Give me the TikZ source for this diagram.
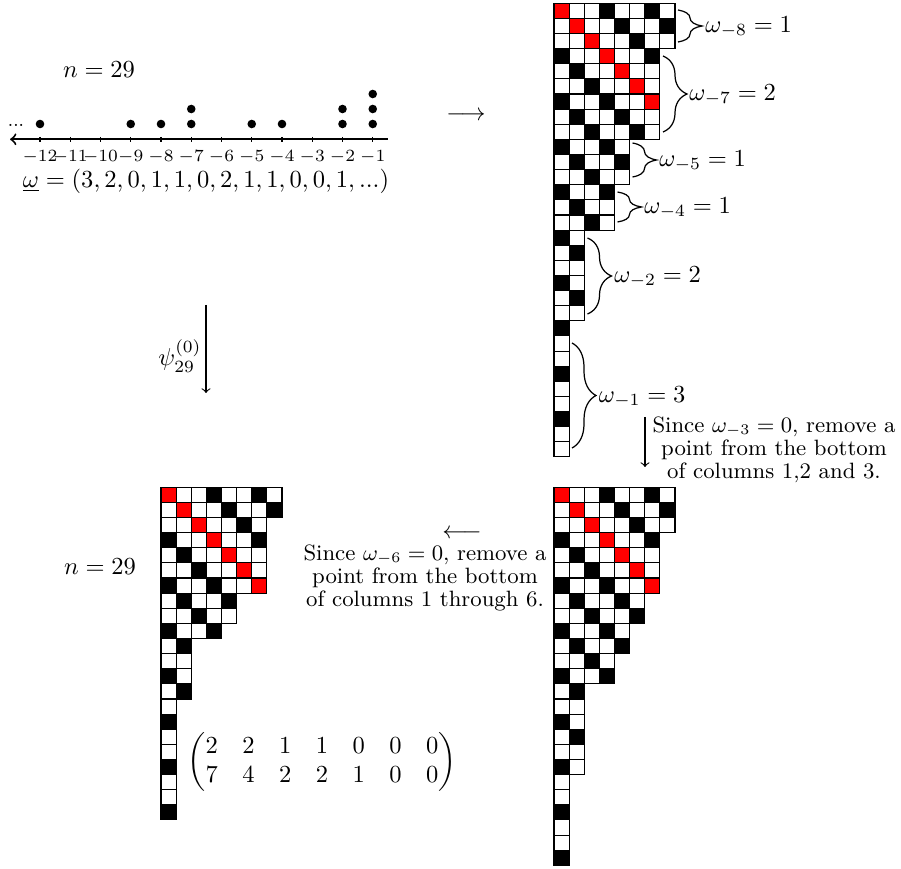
\documentclass[tikz,border=0pt]{standalone}
\usepackage{amsmath}
\usetikzlibrary{decorations.pathreplacing}
\newcommand{\ygrid}[3]{%
  \foreach \len [count=\rw] in {#3} {
    \foreach \cl in {1,...,\len} {
      \pgfmathtruncatemacro\mm{mod(\rw-\cl+300,3)}
      \ifnum\rw=\cl\relax \def\cellcol{red}\else\ifnum\mm=0\relax \def\cellcol{black}\else\def\cellcol{white}\fi\fi
      \draw[cell, fill=\cellcol] ({#1+(\cl-1)*\cs},{#2+(\rw-1)*\cs}) rectangle ++(\cs,\cs);
    }
  }
}
\def\cs{15.12}
\begin{document}
\begin{tikzpicture}[x=0.408pt,y=-0.408pt,
  cell/.style={draw=black,line width=0.45pt},
  brc/.style={decorate,decoration={brace,amplitude=9.8pt},line width=0.5pt},
  lbl/.style={anchor=west,inner sep=0pt},
  pt/.style={fill=black},
  arr/.style={->,line width=0.45pt},
  note/.style={align=center,inner sep=0pt,font=\fontsize{9.05pt}{9.5pt}\selectfont}]
\useasboundingbox (0,0) rectangle (901,869);

% ---------- number line ----------
\node (ntop) at (99,70) {$n=29$};
\coordinate (axL) at (10,139.3);
\coordinate (axR) at (388,139.3);
\draw[<-,line width=0.8pt] (axL) -- (axR);
\foreach \k [count=\i from 0] in {-12,-11,...,-1} {
  \draw[line width=0.5pt] ({40+\i*30.25},137) -- ({40+\i*30.25},142);
  \node[font=\scriptsize,inner sep=0pt] (t\i) at ({40+\i*30.25},157) {$\k$};
}
\foreach \i/\n in {0/1,3/1,4/1,5/2,7/1,8/1,10/2,11/3} {
  \foreach \j in {1,...,\n} {
    \fill[pt] ({40+\i*30.25},{124-(\j-1)*15}) circle[radius=1.75pt];
  }
}
\node[font=\tiny\bfseries,inner sep=0pt] (dots) at (16,125) {...};
\node (omg) at (206,181) {$\underline{\omega} = (3,2,0,1,1,0,2,1,1,0,0,1,...)$};

\node (rarr) at (466,116) {$\longrightarrow$};

% psi arrow
\coordinate (psiA) at (206,305);
\coordinate (psiB) at (206,393);
\draw[arr] (psiA) -- (psiB);
\node (psi) at (180,356) {$\psi^{(0)}_{29}$};

% ---------- grids ----------
\ygrid{554}{3.3}{8,8,8,7,7,7,7,7,7,5,5,5,4,4,4,2,2,2,2,2,2,1,1,1,1,1,1,1,1,1}
\ygrid{554}{487.3}{8,8,8,7,7,7,7,6,6,5,5,4,4,2,2,2,2,2,2,1,1,1,1,1,1}
\ygrid{161}{487.3}{8,8,7,7,7,7,7,5,5,4,2,2,2,2,1,1,1,1,1,1,1,1}

% ---------- braces ----------
\coordinate (b8a) at (678,10);  \coordinate (b8b) at (678,42);
\coordinate (b7a) at (663,56);  \coordinate (b7b) at (663,132);
\coordinate (b5a) at (632.5,143); \coordinate (b5b) at (632.5,177);
\coordinate (b4a) at (617.5,192); \coordinate (b4b) at (617.5,222);
\coordinate (b2a) at (587.5,238); \coordinate (b2b) at (587.5,314);
\coordinate (b1a) at (572,343); \coordinate (b1b) at (572,448);
\draw[brc] (b8a) -- (b8b);
\draw[brc] (b7a) -- (b7b);
\draw[brc] (b5a) -- (b5b);
\draw[brc] (b4a) -- (b4b);
\draw[brc] (b2a) -- (b2b);
\draw[brc] (b1a) -- (b1b);
\node[lbl] (w8) at (705,27) {$\omega_{-8}=1$};
\node[lbl] (w7) at (689,95) {$\omega_{-7}=2$};
\node[lbl] (w5) at (659,161) {$\omega_{-5}=1$};
\node[lbl] (w4) at (644,208) {$\omega_{-4}=1$};
\node[lbl] (w2) at (614,277) {$\omega_{-2}=2$};
\node[lbl] (w1) at (598.5,397) {$\omega_{-1}=3$};

% ---------- step 1 ----------
\coordinate (s1a) at (645,417);
\coordinate (s1b) at (645,467);
\draw[arr] (s1a) -- (s1b);
\node[note] (s1) at (774,450) {Since $\omega_{-3}=0$, remove a\\point from the bottom\\of columns 1,2 and 3.};

% ---------- step 2 ----------
\node (larr) at (462,534) {$\longleftarrow$};
\node[note] (s2) at (425,578) {Since $\omega_{-6}=0$, remove a\\point from the bottom\\of columns 1 through 6.};

\node (nbot) at (100,567) {$n=29$};
\node (mat) at (322,762) {$\begin{pmatrix}2&2&1&1&0&0&0\\7&4&2&2&1&0&0\end{pmatrix}$};
\end{tikzpicture}
\end{document}
